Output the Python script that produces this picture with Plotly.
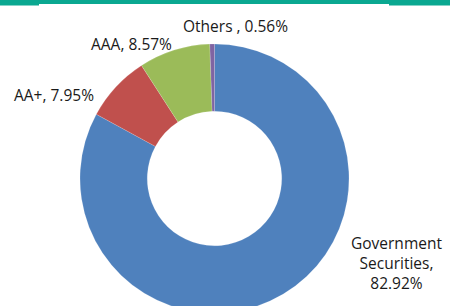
import plotly.graph_objects as go

categories = ["Government Securities", "AA+", "AAA", "Others"]
values = [82.92, 7.95, 8.57, 0.56]
colors = ["#4F81BD", "#C0504D", "#9BBB59", "#8064A2"]
label_texts = ["Government<br>Securities,<br>82.92%", "AA+, 7.95%", "AAA, 8.57%", "Others , 0.56%"]

W, H = 450, 314

def px_x(x):
    return x / W

def px_y(y):
    return 1 - y / H

fig = go.Figure()
fig.add_trace(go.Pie(
    labels=categories,
    values=values,
    hole=0.5,
    sort=False,
    direction="clockwise",
    rotation=0,
    marker=dict(colors=colors, line=dict(color="rgba(255,255,255,0.3)", width=0.5)),
    textinfo="none",
    hoverinfo="label+percent",
    showlegend=False,
    domain=dict(x=[px_x(80), px_x(349)], y=[px_y(313), px_y(44)]),
))

label_pos = [(396, 263), (54, 95), (131, 44), (235, 26)]
for txt, (x, y) in zip(label_texts, label_pos):
    fig.add_annotation(
        x=px_x(x), y=px_y(y), xref="paper", yref="paper",
        text=txt, showarrow=False, xanchor="center", yanchor="middle",
        font=dict(family="Open Sans", size=15.5, color="#1a1a1a"),
    )

fig.add_shape(type="rect", xref="paper", yref="paper",
              x0=0, x1=1, y0=px_y(5.5), y1=px_y(0) + 0.01,
              fillcolor="#0AA891", line_width=0, layer="above")
fig.add_shape(type="rect", xref="paper", yref="paper",
              x0=px_x(39), x1=px_x(389), y0=px_y(6), y1=px_y(4),
              fillcolor="white", line_width=0, layer="above")

fig.update_layout(
    width=W, height=H,
    margin=dict(l=0, r=0, t=0, b=0),
    paper_bgcolor="white",
    plot_bgcolor="white",
)

fig.write_html("out.html", config={"displayModeBar": False},
               post_script="document.body.style.margin='0';document.body.style.overflow='hidden';")
